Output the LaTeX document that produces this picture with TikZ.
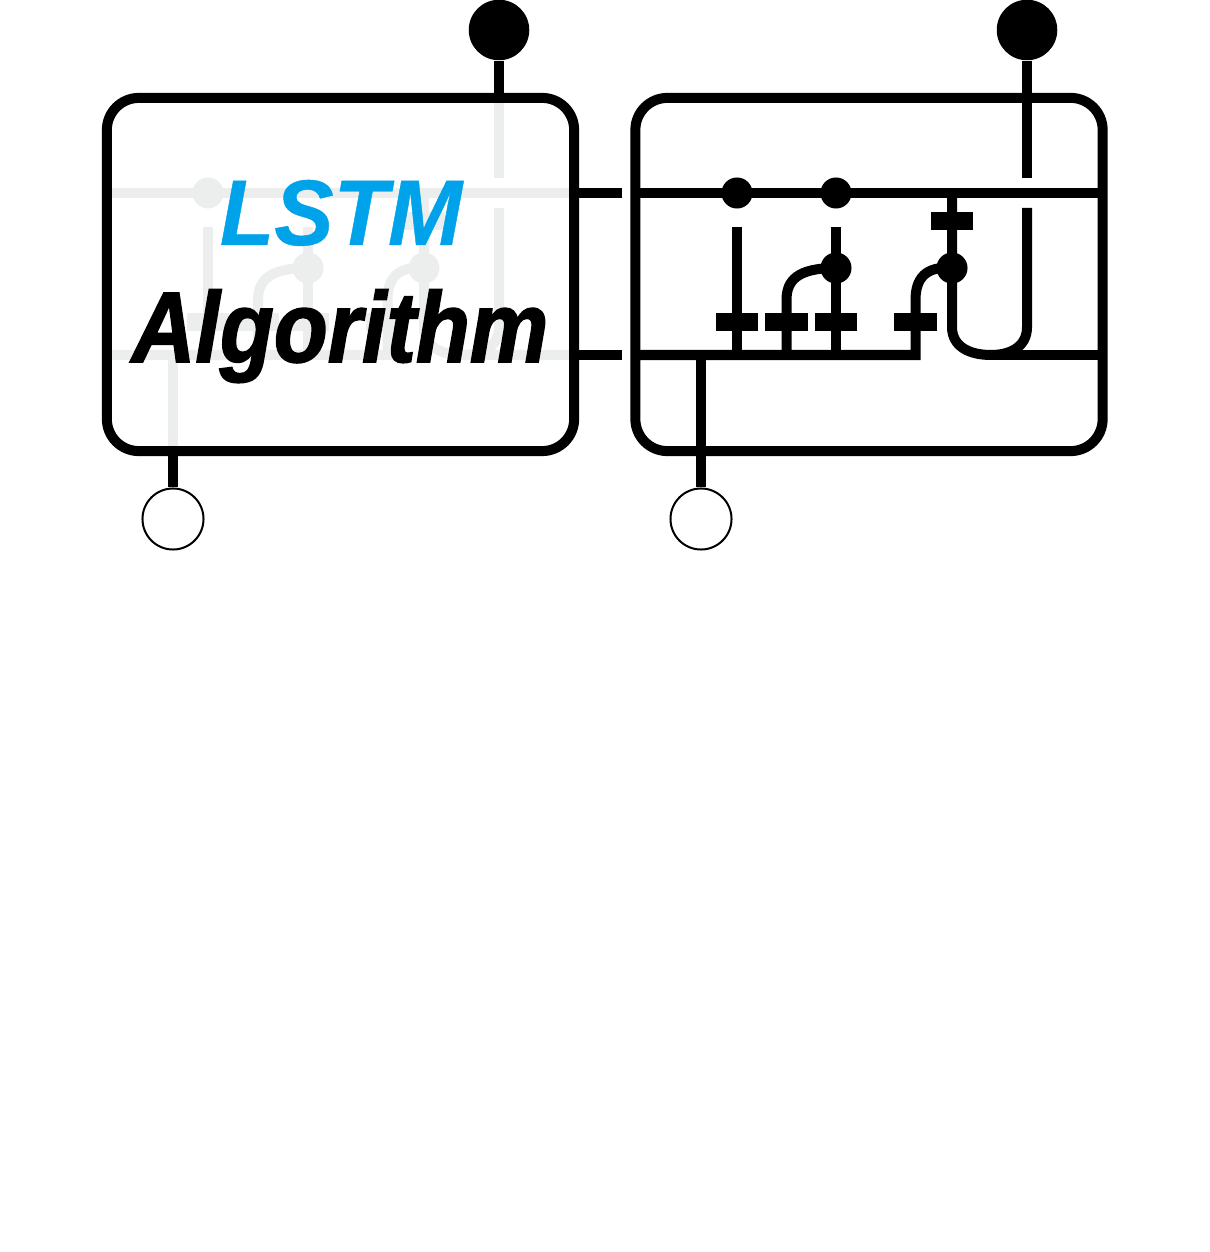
\documentclass[tikz,border=0pt]{standalone}
\usepackage{fontspec}
\setmainfont{Liberation Sans}[BoldItalicFeatures={FakeBold=1.6,FakeStretch=0.88}]
\newfontfamily\titlefont{Liberation Sans}[BoldItalicFeatures={FakeBold=0.5,FakeStretch=0.955}]
\definecolor{faded}{HTML}{ECEDED}
\definecolor{titleblue}{HTML}{00A3EA}
\tikzset{
    cell/.style={rectangle, draw=black, line width=1mm, rounded corners=3.2mm, minimum width=4.67cm, minimum height=3.53cm, inner sep=0},
    wire/.style={line width=1mm},
    dot/.style={circle, fill=black, inner sep=0, minimum size=3.1mm},
    gate/.style={rectangle, fill=black, inner sep=0, minimum width=4.25mm, minimum height=1.85mm},
    output/.style={circle, fill=black, inner sep=0, minimum size=6.05mm},
    input/.style={circle, fill=white, draw=black, line width=0.2mm, inner sep=0, minimum size=6.1mm}
}

\begin{document}
\begin{tikzpicture}[x=0.01cm, y=-0.01cm]
    \useasboundingbox (0, 0) rectangle (1209, 1252);
    % faded copy behind the title
    \begin{scope}[draw=faded]
        \node (FA) [dot, fill=faded] at (208, 193) {};
        \node (FB) [dot, fill=faded] at (308, 268) {};
        \node (FC) [dot, fill=faded] at (424, 268) {};
        \node (FD) [gate, fill=faded] at (424, 221) {};
        \node (FE) [gate, fill=faded] at (208, 322) {};
        \node (FF) [gate, fill=faded] at (258, 322) {};
        \node (FG) [gate, fill=faded] at (308, 322) {};
        \node (FH) [gate, fill=faded] at (387, 322) {};
        \draw [wire] (107, 193) -- (574, 193);
        \draw [wire] (107, 355) -- (387.5, 355) -- (387.5, 300) .. controls (387.5, 278) and (398, 266) .. (FC.center);
        \draw [wire] (208, 227) -- (208, 355);
        \draw [wire] (308, 227) -- (308, 355);
        \draw [wire] (258, 355) -- (258, 300) .. controls (258, 280) and (270, 268) .. (FB.center);
        \draw [wire] (173, 355) -- (173, 451);
        \draw [wire] (424, 193) -- (424, 327) .. controls (424, 347) and (442, 355) .. (463, 355) -- (574, 355);
        \draw [wire] (499, 98) -- (499, 178);
        \draw [wire] (499, 208) -- (499, 327) .. controls (499, 347) and (482, 355) .. (463, 355);
    \end{scope}

    % the two cells
    \node (L) [cell] at (340.5, 274.5) {};
    \node (R) [cell] at (869, 274.5) {};

    % terminals of the left cell
    \node (LO) [output] at (499, 30) {};
    \node (LI) [input] at (173, 519) {};
    \coordinate (LOend) at (499, 98);
    \coordinate (LIend) at (173, 451);
    \draw [wire] (LO) -- (LOend);
    \draw [wire] (LIend) -- (LI);

    % links between the cells
    \coordinate (A1) at (579, 193);
    \coordinate (A2) at (622, 193);
    \coordinate (B1) at (579, 355);
    \coordinate (B2) at (622, 355);
    \draw [wire] (A1) -- (A2);
    \draw [wire] (B1) -- (B2);

    % inside of the right cell
    \node (DA) [dot] at (737, 193) {};
    \node (DB) [dot] at (836, 193) {};
    \node (DC) [dot] at (836, 268) {};
    \node (DD) [dot] at (952, 268) {};
    \node (GA) [gate] at (737, 322) {};
    \node (GB) [gate] at (786.5, 322) {};
    \node (GC) [gate] at (836, 322) {};
    \node (GD) [gate] at (915.5, 322) {};
    \node (GE) [gate] at (952, 221) {};
    \node (RO) [output] at (1027, 30) {};
    \node (RI) [input] at (701, 519) {};

    \coordinate (TL) at (636, 193);
    \coordinate (TR) at (1102, 193);
    \coordinate (ML) at (636, 355);
    \coordinate (MR) at (1102, 355);
    \coordinate (UB) at (991, 355);
    \coordinate (TJ) at (952, 193);
    \coordinate (OA) at (1027, 178);
    \coordinate (OB) at (1027, 208);
    \coordinate (XA) at (737, 227);
    \coordinate (XB) at (737, 355);
    \coordinate (XC) at (836, 227);
    \coordinate (XD) at (836, 355);
    \coordinate (XE) at (786.5, 355);
    \coordinate (XF) at (701, 355);

    \draw [wire] (TL) -- (TR);
    \draw [wire] (ML) -- (915.5, 355) -- (915.5, 300) .. controls (915.5, 278) and (926, 266) .. (DD.center);
    \draw [wire] (XE) -- (786.5, 300) .. controls (786.5, 280) and (798, 268) .. (DC.center);
    \draw [wire] (XA) -- (XB);
    \draw [wire] (XC) -- (XD);
    \draw [wire] (XF) -- (RI);
    \draw [wire] (RO) -- (OA);
    \draw [wire] (TJ) -- (952, 327) .. controls (952, 347) and (970, 355) .. (UB);
    \draw [wire] (OB) -- (1027, 327) .. controls (1027, 347) and (1010, 355) .. (UB);
    \draw [wire] (UB) -- (MR);

    % title
    \node (T1) [text=titleblue, inner sep=0, anchor=base] at (341, 245) {\titlefont\bfseries\itshape\fontsize{26.5}{26.5}\selectfont LSTM};
    \node (T2) [text=black, inner sep=0, anchor=base] at (340, 362) {\bfseries\itshape\fontsize{28.5}{28.5}\selectfont Algorithm};
\end{tikzpicture}
\end{document}
